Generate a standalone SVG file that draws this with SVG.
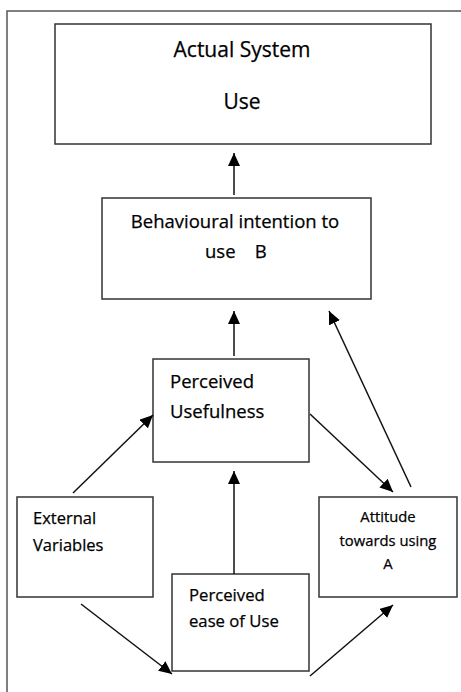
<svg xmlns="http://www.w3.org/2000/svg" width="461" height="692" viewBox="0 0 461 692">
<style>
.box{fill:#fff;stroke:#333;stroke-width:1.5}
.lbl{font-family:"Open Sans","Liberation Sans",sans-serif;fill:#000;stroke:#000;stroke-width:0.25}
.c{text-anchor:middle}
.conn line{stroke:#111;stroke-width:1.5;marker-end:url(#ah)}
</style>
<defs>
<marker id="ah" markerUnits="userSpaceOnUse" markerWidth="13" markerHeight="12" refX="13" refY="6" orient="auto">
<path d="M0,0 L13,6 L0,12 z" fill="#000"/>
</marker>
</defs>
<rect width="461" height="692" fill="#fff"/>
<path d="M7,692 L7,11 L461,11" fill="none" stroke="#555" stroke-width="1.5"/>
<g id="actual-use">
<rect class="box" x="55" y="24" width="376" height="120"/>
<text class="lbl c" x="242" y="57" font-size="21">Actual System</text>
<text class="lbl c" x="242" y="109" font-size="21">Use</text>
</g>
<g id="intention">
<rect class="box" x="102" y="198" width="269" height="101"/>
<text class="lbl c" x="235" y="228" font-size="18.5">Behavioural intention to</text>
<text class="lbl" x="205" y="258" font-size="18.5" style="white-space:pre" xml:space="preserve">use    B</text>
</g>
<g id="usefulness">
<rect class="box" x="153" y="359" width="156" height="103"/>
<text class="lbl" x="170" y="388" font-size="18.5">Perceived</text>
<text class="lbl" x="170" y="418" font-size="18.5">Usefulness</text>
</g>
<g id="external">
<rect class="box" x="17" y="497" width="136" height="100"/>
<text class="lbl" x="33" y="524" font-size="16.5">External</text>
<text class="lbl" x="33" y="551" font-size="16.5">Variables</text>
</g>
<g id="attitude">
<rect class="box" x="319" y="497" width="138" height="100"/>
<text class="lbl c" x="388" y="522" font-size="14.8">Attitude</text>
<text class="lbl c" x="388" y="546" font-size="14.8">towards using</text>
<text class="lbl c" x="388" y="569" font-size="14.8">A</text>
</g>
<g id="ease">
<rect class="box" x="172" y="574" width="137" height="97"/>
<text class="lbl" x="189" y="601" font-size="16.7">Perceived</text>
<text class="lbl" x="189" y="627" font-size="16.7">ease of Use</text>
</g>
<g class="conn" id="connectors">
<line x1="234" y1="195" x2="234" y2="153"/>
<line x1="234" y1="356" x2="234" y2="311"/>
<line x1="411" y1="487" x2="329" y2="311"/>
<line x1="73" y1="493" x2="153" y2="415"/>
<line x1="310" y1="414" x2="393" y2="492"/>
<line x1="234" y1="574" x2="234" y2="471"/>
<line x1="81" y1="604" x2="172" y2="674"/>
<line x1="310" y1="676" x2="393" y2="605"/>
</g>
</svg>
